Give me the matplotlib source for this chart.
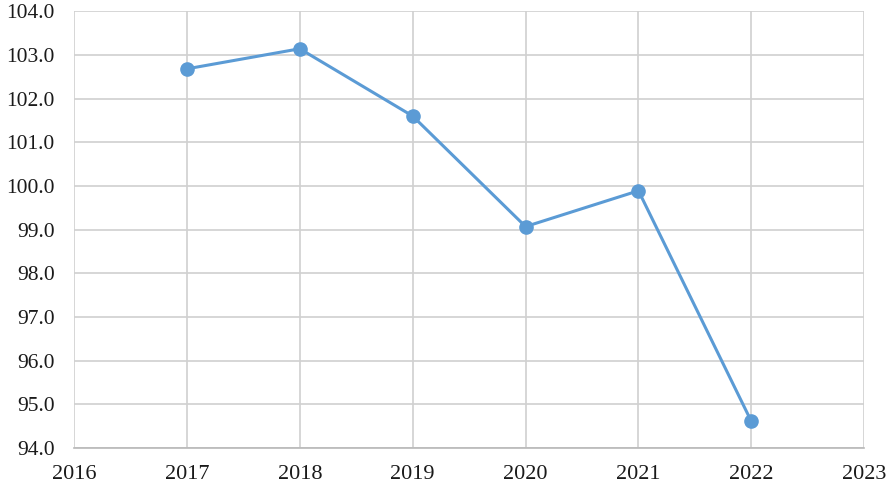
import matplotlib
matplotlib.use("Agg")
import matplotlib.pyplot as plt
import numpy as np

years = [2017, 2018, 2019, 2020, 2021, 2022]
values = [102.68, 103.14, 101.60, 99.07, 99.89, 94.61]
x_ticks = list(range(2016, 2024))
y_ticks = np.arange(94, 104.1, 1.0)

plt.rcParams["font.family"] = ["Liberation Serif", "DejaVu Serif"]

fig = plt.figure(figsize=(8.91, 4.86), dpi=100)
ax = fig.add_axes([0.083, 0.078, 0.887, 0.899])

ax.plot(years, values, color="#5B9BD5", lw=2.2, marker="o", ms=9.5,
        markeredgecolor="#5B9BD5", zorder=3)

ax.set_xlim(2016, 2023)
ax.set_ylim(94, 104)
ax.set_xticks(x_ticks)
ax.set_yticks(y_ticks)
ax.set_yticklabels([f"{v:.1f}" for v in y_ticks])
ax.grid(True, color="#d0d0d0", lw=1.2)
ax.set_axisbelow(True)
for s in ["top", "right", "left"]:
    ax.spines[s].set_visible(False)
ax.spines["bottom"].set_color("#b8b8b8")
ax.spines["bottom"].set_linewidth(1.2)
ax.tick_params(length=0, colors="#1a1a1a")
ax.tick_params(axis="x", pad=12, labelsize=16)
ax.tick_params(axis="y", pad=14, labelsize=15.5)

fig.savefig("out.png", dpi=100)
